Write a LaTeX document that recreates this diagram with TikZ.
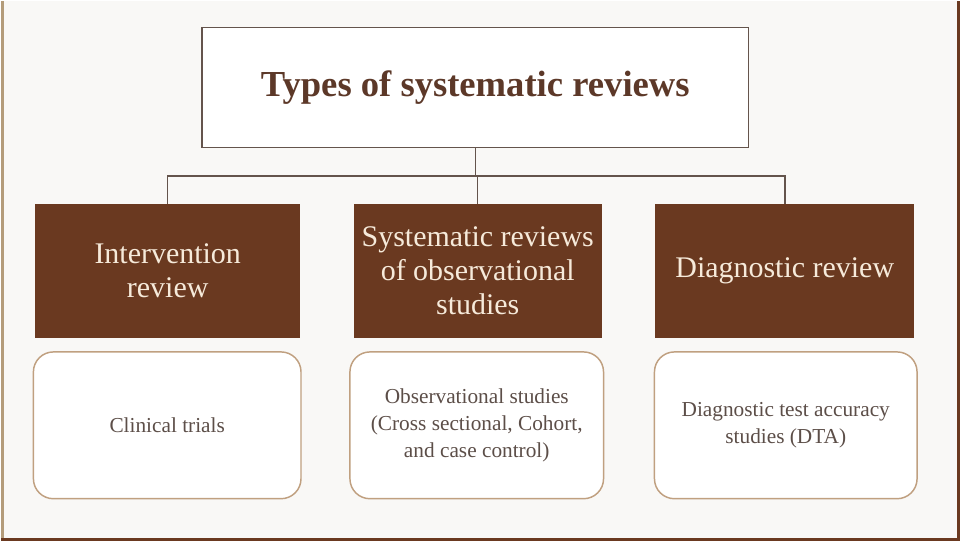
\documentclass[tikz,border=0pt]{standalone}
\usepackage{fontspec}
\setmainfont{Liberation Serif}

\definecolor{boxbrown}{RGB}{106,57,32}
\definecolor{titlebrown}{RGB}{92,56,40}
\definecolor{linegray}{RGB}{100,84,76}
\definecolor{lighttext}{RGB}{246,234,218}
\definecolor{bodytext}{RGB}{92,78,72}
\definecolor{tanline}{RGB}{192,160,128}
\definecolor{pagebg}{RGB}{249,248,246}

\tikzset{every picture/.style={line width=0.75pt}}
\tikzset{
  titlebox/.style={draw=linegray, line width=1.1pt, fill=white, minimum width=410.25pt, minimum height=90pt, inner sep=0pt, text=titlebrown, font=\fontsize{27.5}{32}\selectfont\bfseries},
  typebox/.style={fill=boxbrown, minimum height=100.5pt, inner sep=0pt, align=center, text=lighttext, font=\fontsize{22.5}{25.5}\selectfont},
  studybox/.style={draw=tanline, line width=1.1pt, fill=white, rounded corners=15pt, minimum height=110.25pt, inner sep=0pt, align=center, text=bodytext, font=\fontsize{16}{20.25}\selectfont},
  busline/.style={draw=linegray, line width=1.1pt}
}

\begin{document}
\begin{tikzpicture}[x=0.75pt,y=0.75pt,yscale=-1,xscale=1]
%Background and frame
\fill [pagebg] (0,0) rectangle (960,540);
\draw [color={rgb, 255:red, 180; green, 156; blue, 122 }, line width=2.2pt] (1.5,0) -- (1.5,540);
\draw [color=boxbrown, line width=2.2pt] (958.5,0) -- (958.5,538.5) -- (0,538.5);

% Title Node
\draw (474.5,86) node (title) [titlebox] {Types of systematic reviews};

% Type Nodes
\draw (166.5,270) node (interv) [typebox, minimum width=198.75pt] {Intervention\\review};
\draw (477,270) node (observ) [typebox, minimum width=186pt] {Systematic reviews\\of observational\\studies};
\draw (784.5,270) node (diagn) [typebox, minimum width=194.25pt] {Diagnostic review};

% Study Nodes
\draw (166,424.5) node (trials) [studybox, minimum width=201pt] {Clinical trials};
\draw (476,424.5) node (obsstud) [studybox, minimum width=190.5pt] {Observational studies\\(Cross sectional, Cohort,\\and case control)};
\draw (785.5,424.5) node (dta) [studybox, minimum width=197.25pt] {Diagnostic test accuracy\\studies (DTA)};

%Straight Lines
\coordinate (bus) at (474.5,175);
\draw [busline] (title.south) -- (bus);
\draw [busline] (interv.north) |- (bus);
\draw [busline] (observ.north) |- (bus);
\draw [busline] (diagn.north) |- (bus);

\end{tikzpicture}
\end{document}
